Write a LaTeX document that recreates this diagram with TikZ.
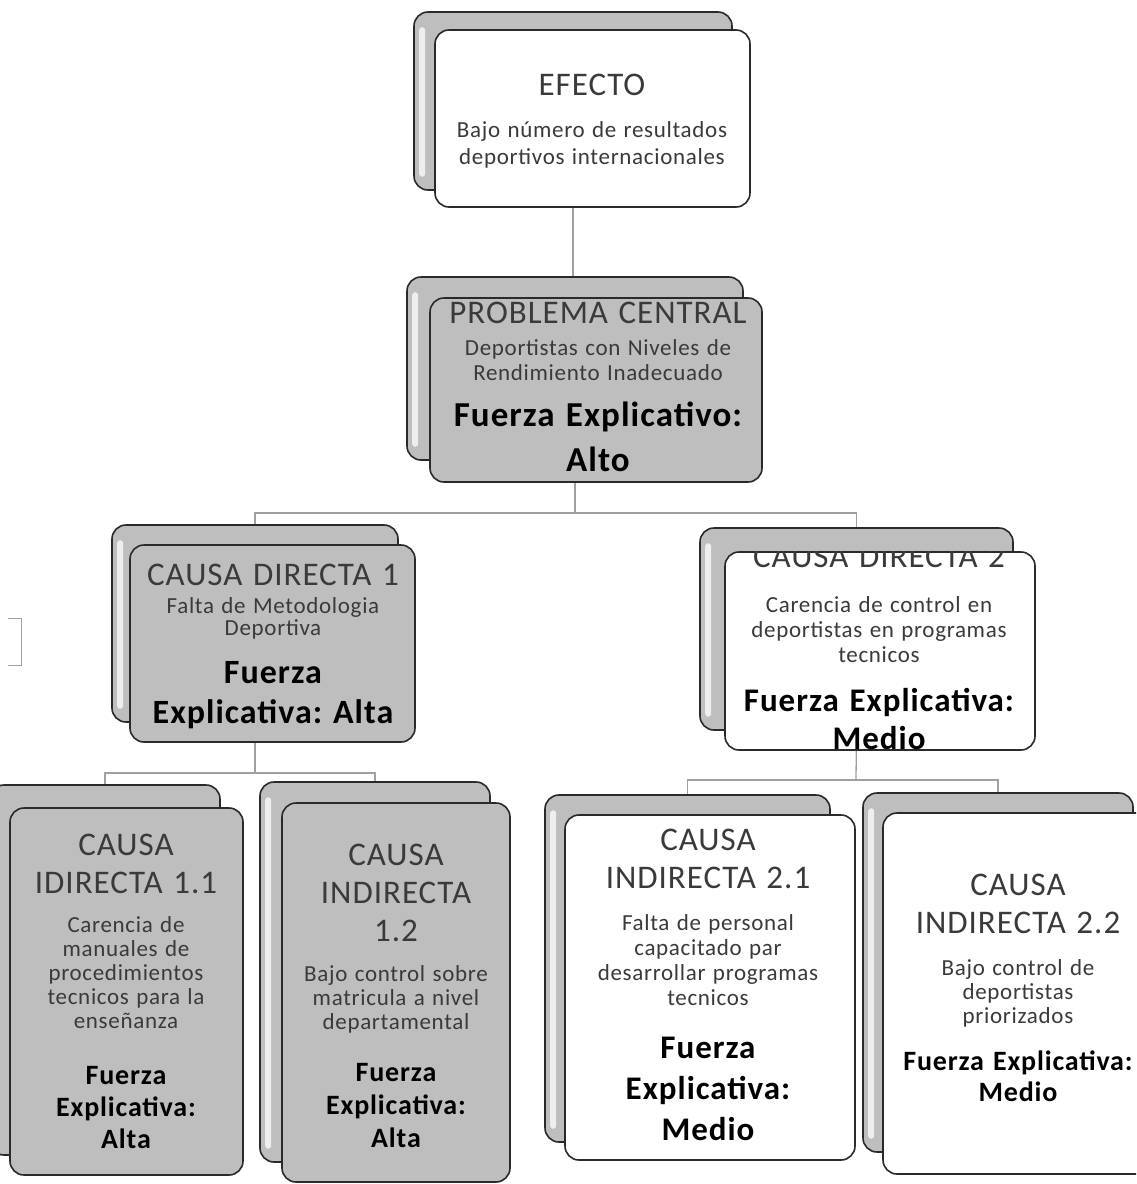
\documentclass[tikz,border=0pt]{standalone}
\usepackage{fontspec}
\setmainfont{Carlito}[LetterSpace=3]
\usetikzlibrary{backgrounds}

\definecolor{cardgray}{HTML}{BEBEBE}
\definecolor{edge}{HTML}{2A2A2A}
\definecolor{ink}{HTML}{3A3A3A}
\definecolor{linkgray}{HTML}{A0A0A0}
\definecolor{shine}{HTML}{EEEEEE}

\lineskiplimit=-\maxdimen
\newcommand{\blk}[3]{{\fontsize{#1}{#2}\selectfont\spaceskip=.32em\relax\xspaceskip=\spaceskip #3\par}}
\newcommand{\fz}[3]{{\fontsize{#1}{#2}\selectfont\bfseries\spaceskip=.32em\relax\xspaceskip=\spaceskip\leavevmode\color{black}#3\par}}

\tikzset{
  backcard/.style={draw=edge, line width=1.6pt, fill=cardgray, rounded corners=14pt},
  graycard/.style={draw=edge, line width=1.6pt, fill=cardgray, rounded corners=14pt},
  whitecard/.style={draw=edge, line width=1.6pt, fill=white, rounded corners=14pt},
  glint/.style={fill=shine, rounded corners=3pt},
  link/.style={draw=linkgray, line width=1.3pt},
  boxtext/.style={text width=#1, align=center, inner sep=0pt, anchor=base, text=ink},
}

\begin{document}
\begin{tikzpicture}[x=1pt,y=-1pt]
\path[use as bounding box] (0,0) rectangle (1136,1184);
\begin{scope}[on background layer]
\fill[white] (0,0) rectangle (1136,1184);
\end{scope}
\clip (0,0) rectangle (1136,1184);

% efecto
\node[backcard, minimum width=318pt, minimum height=178pt] (efecto-b) at (573,101) {};
\fill[glint] ([xshift=6pt,yshift=-16pt]efecto-b.north west) rectangle ([xshift=12pt,yshift=14pt]efecto-b.south west);
\node[whitecard, minimum width=315pt, minimum height=177pt] (efecto) at (592.5,118.5) {};
\node[boxtext=300pt] (efecto-t) at (592,95) {\blk{33}{38}{EFECTO}\vspace{15pt}\blk{23}{27}{Bajo número de resultados\\deportivos internacionales}};

% problema central
\node[backcard, minimum width=336pt, minimum height=183pt] (pc-b) at (575,368.5) {};
\fill[glint] ([xshift=6pt,yshift=-16pt]pc-b.north west) rectangle ([xshift=12pt,yshift=14pt]pc-b.south west);
\node[graycard, minimum width=332pt, minimum height=184pt] (pc) at (596,390) {};
\node[boxtext=320pt] (pc-t) at (598,323) {\blk{33}{38}{PROBLEMA CENTRAL}\vspace{7pt}\blk{23}{25}{Deportistas con Niveles de\\Rendimiento Inadecuado}\vspace{1pt}\fz{35}{45}{Fuerza Explicativo:\\Alto}};

% causa directa 1
\node[backcard, minimum width=286pt, minimum height=197pt] (cd1-b) at (255,623.5) {};
\fill[glint] ([xshift=6pt,yshift=-16pt]cd1-b.north west) rectangle ([xshift=12pt,yshift=14pt]cd1-b.south west);
\node[graycard, minimum width=285pt, minimum height=197pt] (cd1) at (272.5,643.5) {};
\node[boxtext=280pt] (cd1-t) at (273,585) {\blk{33}{38}{CAUSA DIRECTA 1}\vspace{6pt}\blk{23}{22}{Falta de Metodologia\\Deportiva}\vspace{8pt}\fz{34}{40}{Fuerza\\Explicativa: Alta}};

% causa directa 2
\node[backcard, minimum width=313pt, minimum height=202pt] (cd2-b) at (856.5,629) {};
\fill[glint] ([xshift=6pt,yshift=-16pt]cd2-b.north west) rectangle ([xshift=12pt,yshift=14pt]cd2-b.south west);
\node[whitecard, minimum width=310pt, minimum height=198pt] (cd2) at (880,651) {};
\begin{scope}
\clip[rounded corners=14pt] (cd2.north west) rectangle (cd2.south east);
\node[boxtext=300pt] (cd2-t) at (879,567) {\blk{33}{38}{CAUSA DIRECTA 2}\vspace{20pt}\blk{23}{25}{Carencia de control en\\deportistas en programas\\tecnicos}\vspace{11pt}\fz{33}{38}{Fuerza Explicativa:\\Medio}};
\end{scope}

% causa indirecta 1.1
\node[backcard, minimum width=230pt, minimum height=370pt] (ci11-b) at (105,970) {};
\node[graycard, minimum width=233pt, minimum height=367pt] (ci11) at (126.5,991.5) {};
\node[boxtext=225pt] (ci11-t) at (126,855) {\blk{33}{38}{CAUSA\\IDIRECTA 1.1}\vspace{15pt}\blk{23}{24}{Carencia de\\manuales de\\procedimientos\\tecnicos para la\\enseñanza}\vspace{24pt}\fz{28}{32}{Fuerza\\Explicativa:\\Alta}};

% causa indirecta 1.2
\node[backcard, minimum width=230pt, minimum height=380pt] (ci12-b) at (375,972) {};
\fill[glint] ([xshift=6pt,yshift=-16pt]ci12-b.north west) rectangle ([xshift=12pt,yshift=14pt]ci12-b.south west);
\node[graycard, minimum width=228pt, minimum height=379pt] (ci12) at (396,992.5) {};
\node[boxtext=225pt] (ci12-t) at (396,865) {\blk{33}{38}{CAUSA\\INDIRECTA\\1.2}\vspace{16pt}\blk{23}{24}{Bajo control sobre\\matricula a nivel\\departamental}\vspace{19pt}\fz{28}{33}{Fuerza\\Explicativa:\\Alta}};

% causa indirecta 2.1
\node[backcard, minimum width=285pt, minimum height=347pt] (ci21-b) at (687.5,968.5) {};
\fill[glint] ([xshift=6pt,yshift=-16pt]ci21-b.north west) rectangle ([xshift=12pt,yshift=14pt]ci21-b.south west);
\node[whitecard, minimum width=290pt, minimum height=345pt] (ci21) at (710,987.5) {};
\node[boxtext=280pt] (ci21-t) at (708,850) {\blk{33}{38}{CAUSA\\INDIRECTA 2.1}\vspace{17pt}\blk{23}{25}{Falta de personal\\capacitado par\\desarrollar programas\\tecnicos}\vspace{12pt}\fz{33}{41}{Fuerza\\Explicativa:\\Medio}};

% causa indirecta 2.2
\node[backcard, minimum width=270pt, minimum height=359pt] (ci22-b) at (998,972.5) {};
\fill[glint] ([xshift=6pt,yshift=-16pt]ci22-b.north west) rectangle ([xshift=12pt,yshift=14pt]ci22-b.south west);
\node[whitecard, minimum width=267pt, minimum height=361pt] (ci22) at (1016.5,993.5) {};
\node[boxtext=260pt] (ci22-t) at (1018,895) {\blk{33}{38}{CAUSA\\INDIRECTA 2.2}\vspace{18pt}\blk{23}{24}{Bajo control de\\deportistas\\priorizados}\vspace{16pt}\fz{28}{31}{Fuerza Explicativa:\\Medio}};

% links
\coordinate (bus-a) at (575,513);
\coordinate (bus-b) at (255,773);
\coordinate (bus-c) at (856,780);
\begin{scope}[on background layer]
\draw[link] (efecto-b.south) -- (efecto-b.south |- pc-b.north);
\draw[link] (pc-b.south) -- (bus-a);
\draw[link] (cd1-b.north) |- (bus-a) -| (cd2-b.north);
\draw[link] (cd1-b.south) -- (bus-b);
\draw[link] (ci11-b.north) |- (bus-b) -| (ci12-b.north);
\draw[link] (cd2-b.south) -- (bus-c);
\draw[link] (ci21-b.north) |- (bus-c) -| (ci22-b.north);
\end{scope}

% margin mark
\draw[linkgray, line width=1pt] (8,618) -- (21,618) -- (21,665) -- (8,665);
\end{tikzpicture}
\end{document}
